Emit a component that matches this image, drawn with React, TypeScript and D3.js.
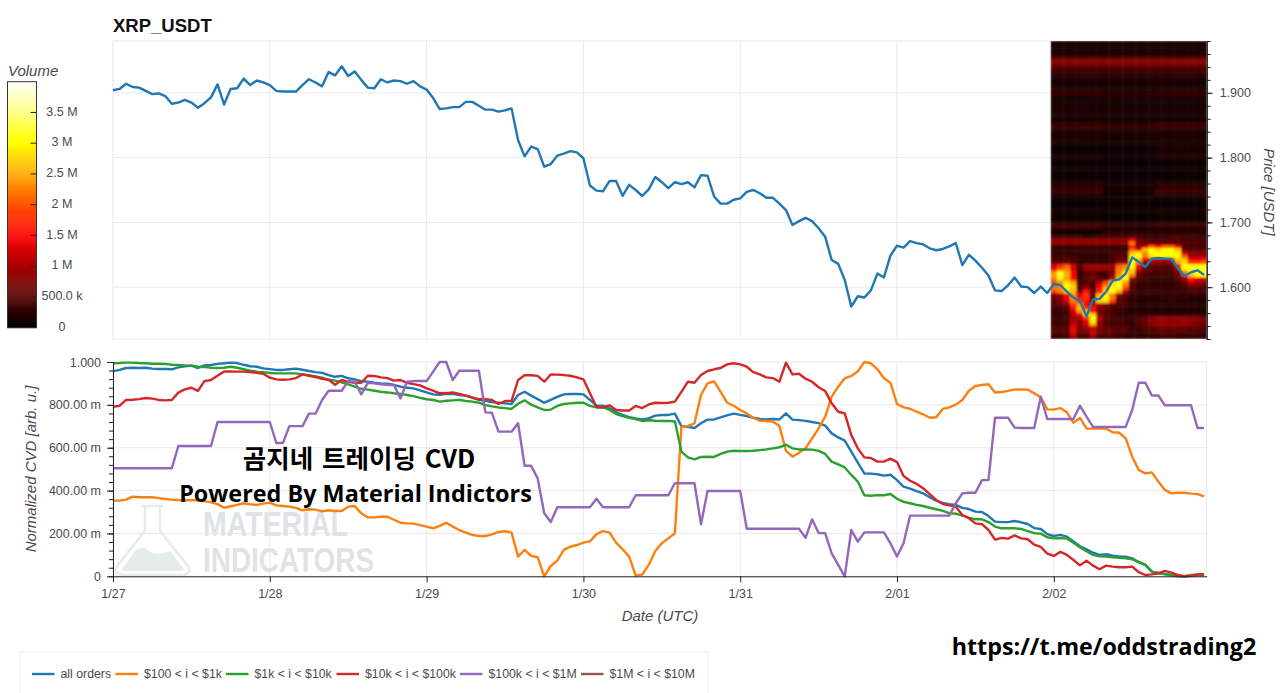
import React, { useEffect, useRef } from "react";
import * as d3 from "d3";

// hourly samples, starting 1/27 00:00 UTC
const priceValues = [
  1.904, 1.906, 1.914, 1.909, 1.908, 1.903, 1.898, 1.899, 1.895, 1.883, 1.885, 1.889, 1.885, 1.877, 1.884, 1.893, 1.913, 1.882, 1.906, 1.907, 1.922, 1.912, 1.919, 1.916,
  1.912, 1.903, 1.902, 1.902, 1.902, 1.912, 1.921, 1.916, 1.91, 1.932, 1.927, 1.941, 1.926, 1.933, 1.92, 1.908, 1.907, 1.921, 1.916, 1.919, 1.918, 1.914, 1.918, 1.91,
  1.905, 1.892, 1.875, 1.876, 1.878, 1.878, 1.886, 1.886, 1.88, 1.874, 1.874, 1.871, 1.873, 1.876, 1.827, 1.802, 1.817, 1.813, 1.786, 1.79, 1.803, 1.806, 1.81, 1.808,
  1.799, 1.757, 1.749, 1.748, 1.764, 1.764, 1.741, 1.758, 1.75, 1.741, 1.751, 1.77, 1.762, 1.753, 1.762, 1.759, 1.762, 1.754, 1.773, 1.772, 1.74, 1.729, 1.729, 1.735,
  1.737, 1.747, 1.75, 1.745, 1.738, 1.738, 1.729, 1.719, 1.696, 1.702, 1.707, 1.702, 1.691, 1.678, 1.642, 1.636, 1.611, 1.57, 1.586, 1.584, 1.595, 1.621, 1.615, 1.649,
  1.664, 1.661, 1.671, 1.668, 1.666, 1.66, 1.657, 1.659, 1.663, 1.668, 1.634, 1.65, 1.641, 1.63, 1.618, 1.595, 1.594, 1.603, 1.615, 1.601, 1.6, 1.591, 1.601, 1.591,
  1.605, 1.603, 1.593, 1.584, 1.579, 1.555, 1.581, 1.582, 1.593, 1.61, 1.612, 1.621, 1.646, 1.639, 1.631, 1.644, 1.645, 1.644, 1.643, 1.629, 1.617, 1.623, 1.626, 1.619,
];

// normalized CVD, in thousandths
const allOrders = [
  956, 963, 972, 973, 972, 973, 969, 967, 967, 966, 975, 980, 983, 972, 984, 986, 991, 994, 997, 995, 987, 980, 978, 970,
  967, 963, 963, 966, 969, 964, 958, 953, 949, 939, 931, 935, 924, 919, 911, 908, 903, 900, 899, 893, 885, 880, 877, 868,
  858, 849, 847, 851, 852, 846, 843, 833, 823, 819, 813, 810, 807, 804, 846, 861, 843, 827, 810, 823, 837, 849, 851, 851,
  849, 823, 796, 796, 784, 765, 753, 743, 737, 732, 737, 750, 753, 753, 759, 701, 698, 692, 714, 731, 732, 742, 751, 759,
  753, 748, 740, 734, 732, 734, 732, 760, 731, 729, 725, 720, 715, 703, 667, 648, 633, 582, 530, 480, 479, 476, 470, 474,
  449, 418, 409, 397, 387, 369, 353, 342, 337, 333, 319, 314, 302, 300, 281, 255, 253, 253, 258, 252, 244, 225, 221, 197,
  188, 193, 185, 162, 140, 126, 110, 100, 103, 96, 93, 92, 84, 65, 53, 22, 14, 11, 5, 2, 0, 3, 6, 6,
];
const tier100 = [
  353, 353, 358, 372, 369, 369, 369, 365, 361, 358, 356, 355, 355, 355, 351, 345, 337, 320, 327, 333, 341, 336, 333, 339,
  344, 331, 328, 325, 319, 308, 313, 311, 303, 308, 305, 305, 325, 328, 294, 275, 275, 278, 278, 264, 250, 247, 246, 239,
  232, 224, 235, 250, 232, 216, 204, 193, 188, 188, 196, 207, 210, 204, 92, 123, 95, 89, 0, 48, 73, 123, 138, 146,
  157, 163, 197, 211, 204, 157, 126, 92, 3, 8, 53, 118, 154, 177, 201, 698, 701, 714, 846, 900, 910, 861, 810, 796,
  776, 760, 740, 726, 725, 722, 701, 586, 558, 577, 597, 644, 690, 745, 838, 885, 924, 935, 956, 1000, 994, 966, 924, 903,
  804, 788, 782, 768, 756, 740, 742, 781, 788, 801, 823, 866, 888, 893, 896, 858, 860, 865, 872, 872, 871, 854, 835, 779,
  778, 785, 765, 717, 739, 690, 689, 689, 690, 672, 670, 644, 558, 496, 480, 485, 442, 403, 387, 390, 390, 386, 384, 373,
];
const tier1k = [
  994, 995, 997, 997, 995, 994, 992, 992, 991, 987, 986, 984, 983, 978, 977, 973, 972, 973, 978, 973, 966, 959, 955, 952,
  949, 947, 947, 947, 947, 942, 938, 933, 927, 917, 913, 905, 896, 885, 875, 871, 866, 861, 858, 854, 851, 846, 841, 833,
  826, 823, 815, 819, 821, 823, 818, 815, 810, 799, 793, 788, 785, 781, 805, 821, 801, 788, 776, 778, 795, 804, 807, 810,
  810, 795, 788, 788, 776, 757, 748, 740, 734, 725, 728, 726, 725, 725, 723, 582, 555, 546, 557, 558, 557, 571, 582, 586,
  585, 585, 586, 589, 592, 597, 602, 614, 597, 592, 592, 591, 585, 571, 535, 522, 508, 473, 442, 378, 376, 379, 378, 384,
  362, 347, 341, 333, 328, 320, 313, 305, 295, 292, 283, 274, 266, 266, 253, 232, 224, 224, 224, 221, 211, 201, 199, 182,
  177, 179, 176, 157, 135, 117, 100, 93, 92, 89, 86, 84, 79, 67, 53, 22, 17, 9, 6, 0, 0, 6, 9, 9,
];
const tier10k = [
  791, 795, 823, 824, 827, 832, 829, 823, 821, 823, 857, 872, 880, 865, 911, 916, 936, 956, 956, 955, 955, 953, 949, 945,
  927, 919, 917, 919, 925, 942, 936, 930, 921, 917, 894, 916, 907, 903, 903, 936, 935, 928, 925, 913, 916, 903, 897, 891,
  877, 866, 854, 855, 858, 851, 843, 835, 826, 827, 823, 804, 818, 819, 916, 938, 938, 935, 908, 942, 941, 939, 936, 928,
  919, 854, 790, 788, 798, 776, 774, 774, 795, 785, 802, 810, 809, 810, 815, 861, 908, 903, 939, 958, 966, 972, 989, 994,
  989, 978, 953, 942, 928, 925, 908, 997, 942, 945, 922, 908, 882, 865, 807, 768, 760, 659, 597, 555, 552, 535, 535, 549,
  533, 468, 446, 431, 411, 383, 356, 337, 331, 325, 286, 271, 247, 243, 216, 171, 179, 176, 191, 177, 173, 148, 137, 106,
  95, 114, 100, 76, 51, 73, 50, 33, 50, 45, 42, 42, 45, 19, 6, 9, 14, 25, 17, 6, 0, 2, 8, 9,
];
const tier100k = [
  504, 504, 504, 504, 504, 504, 504, 504, 504, 504, 608, 608, 608, 608, 608, 608, 720, 720, 720, 720, 720, 720, 720, 720,
  720, 622, 622, 701, 701, 701, 759, 759, 823, 866, 866, 866, 911, 908, 849, 903, 900, 896, 893, 893, 830, 908, 911, 911,
  911, 955, 1000, 1000, 916, 959, 959, 959, 959, 765, 763, 675, 675, 675, 714, 516, 516, 457, 294, 253, 322, 322, 322, 322,
  322, 322, 362, 322, 322, 322, 322, 322, 378, 378, 378, 378, 378, 378, 434, 434, 434, 434, 243, 398, 398, 398, 398, 398,
  398, 222, 222, 222, 222, 222, 222, 222, 222, 222, 180, 266, 202, 201, 107, 53, 0, 216, 162, 205, 205, 205, 205, 154,
  92, 154, 283, 283, 283, 283, 283, 283, 283, 341, 387, 390, 390, 449, 449, 740, 740, 740, 694, 692, 692, 692, 838, 734,
  734, 734, 734, 734, 796, 745, 697, 697, 697, 697, 697, 697, 776, 903, 903, 844, 844, 798, 798, 798, 798, 798, 692, 692,
];

const seriesNames = ["all orders", "$100 < i < $1k", "$1k < i < $10k", "$10k < i < $100k", "$100k < i < $1M", "$1M < i < $10M"];
const seriesColors = ["#1f77b4", "#ff7f0e", "#2ca02c", "#d62728", "#9467bd", "#8c564b"];
// the $1M tier has no visible line in the picture, only its legend entry
const seriesValues = [allOrders, tier100, tier1k, tier10k, tier100k];
const legendStarts = [32, 115.5, 226, 336.5, 460, 581];

const dayTicks = ["2025-01-27", "2025-01-28", "2025-01-29", "2025-01-30", "2025-01-31", "2025-02-01", "2025-02-02"];
const cvdTicks = [0, 0.2, 0.4, 0.6, 0.8, 1];
const cvdTickLabels = ["0", "200.00 m", "400.00 m", "600.00 m", "800.00 m", "1.000"];
const priceTicks = [1.6, 1.7, 1.8, 1.9];
const volumeTicks = [0, 0.5e6, 1e6, 1.5e6, 2e6, 2.5e6, 3e6, 3.5e6];
const volumeTickLabels = ["0", "500.0 k", "1 M", "1.5 M", "2 M", "2.5 M", "3 M", "3.5 M"];

// volume heatmap, units of 100k. Rows run top down in 0.005 price bins.
// above 1.68 the rows barely change over the day, so three spans per row
const upperEarly = [
  1.2, 1.2, 1.2, 1.5, 2, 6, 8, 6.5, 4.5, 3.5, 2.2, 2, 1.5, 1.2, 1.2, 2.5, 3, 1.5, 1, 1.2, 2, 1.8, 1.5, 1.2, 1, 3, 3.5, 2, 1.5, 1.2,
  1.5, 1.2, 0.6, 0.5, 0.8, 1.2, 1.2, 1, 0.8, 0.8, 1, 1, 0.8, 1.2, 2, 3, 3.5, 2, 0.6, 1, 1, 0.8, 0.8, 1.2, 1, 0.8, 3.5, 4, 1.5, 0.8,
];
const upperMid = [
  1.2, 1.2, 1.2, 1.5, 2, 6, 8, 6.5, 4.5, 3.5, 2.2, 2, 1.5, 1.2, 1.2, 2.2, 2.6, 1.5, 1, 1.2, 1.6, 1.5, 1.2, 1.2, 1, 2.5, 3, 2, 1.5, 1.2,
  1.2, 1.2, 0.5, 0.5, 0.8, 1, 1, 1, 0.8, 0.8, 1, 1, 0.8, 1, 1.2, 1.2, 1.2, 1, 0.6, 0.8, 0.8, 0.8, 0.8, 1, 1, 0.8, 3, 2.5, 1.5, 3,
];
const upperLate = [
  1.2, 1.2, 1.2, 1.5, 2, 6, 8, 6.5, 4.5, 3.5, 2.2, 2, 1.5, 1.2, 1.2, 2.5, 3, 1.5, 1, 1.2, 1.8, 1.5, 1.2, 1.2, 1, 3.2, 3.5, 2, 1.5, 1.2,
  1.5, 1.2, 1.5, 1.5, 1.2, 1.2, 1.2, 1, 1, 0.8, 1, 1, 0.8, 1.2, 2, 3, 4, 2.5, 0.6, 1, 1, 0.8, 0.8, 1.2, 1, 0.8, 3.5, 3, 1.5, 3,
];
// 1.68 down to 1.52, hour by hour over the last day
const lowerRows = [
  [4, 4, 4, 4, 4, 2, 3, 4, 4, 4, 4, 4, 5, 4, 3, 3, 3, 3, 4, 4, 4, 4, 3, 3],
  [8, 8, 8, 8, 8, 8, 8, 8, 8, 8, 8, 8, 14, 6, 5, 5, 5, 5, 5, 5, 4, 4, 4, 4],
  [9, 9, 9, 9, 9, 9, 9, 9, 9, 9, 9, 9, 22, 8, 6, 6, 6, 6, 6, 6, 5, 5, 5, 5],
  [3, 3, 3, 3, 3, 3, 3, 3, 3, 3, 3, 3, 16, 8, 12, 20, 16, 20, 20, 14, 4, 4, 4, 4],
  [3, 3, 3, 3, 3, 3, 3, 3, 3, 3, 3, 3, 20, 14, 26, 30, 27, 30, 30, 26, 6, 5, 5, 5],
  [3, 3, 3, 3, 3, 3, 3, 3, 3, 4, 4, 5, 26, 29, 23, 30, 30, 30, 30, 29, 12, 8, 8, 8],
  [4, 4, 4, 4, 3, 3, 3, 3, 3, 4, 5, 5, 29, 31, 22, 29, 30, 30, 30, 30, 20, 9, 9, 9],
  [4, 4, 5, 4, 3, 3, 3, 3, 3, 4, 6, 6, 31, 27, 14, 14, 12, 10, 12, 27, 26, 14, 14, 16],
  [5, 6, 6, 5, 3, 3, 3, 3, 3, 4, 8, 8, 31, 22, 9, 8, 8, 7, 9, 24, 28, 18, 18, 20],
  [12, 17, 20, 12, 4, 9, 9, 9, 9, 9, 20, 22, 30, 15, 6, 6, 5, 5, 5, 14, 30, 30, 30, 30],
  [14, 20, 22, 13, 4, 9, 9, 9, 9, 9, 22, 24, 28, 12, 6, 5, 5, 5, 5, 10, 29, 31, 31, 31],
  [23, 30, 25, 15, 3, 5, 6, 4, 4, 8, 23, 29, 26, 8, 5, 4, 4, 4, 4, 7, 22, 29, 31, 31],
  [24, 32, 25, 15, 3, 5, 6, 4, 3, 8, 24, 30, 22, 6, 4, 4, 4, 4, 4, 6, 16, 26, 30, 30],
  [22, 29, 24, 14, 3, 5, 6, 5, 3, 9, 26, 30, 8, 4, 4, 3, 3, 3, 3, 5, 8, 16, 14, 12],
  [20, 24, 28, 24, 4, 5, 5, 10, 18, 27, 30, 24, 6, 4, 3, 3, 3, 3, 3, 4, 6, 12, 10, 9],
  [20, 23, 30, 27, 5, 6, 4, 14, 22, 29, 30, 22, 5, 3, 3, 3, 3, 3, 3, 4, 5, 8, 7, 6],
  [22, 23, 30, 27, 5, 10, 4, 16, 26, 30, 29, 18, 5, 3, 3, 3, 3, 3, 3, 3, 4, 5, 5, 5],
  [18, 22, 27, 26, 6, 16, 5, 16, 27, 30, 24, 10, 4, 3, 3, 3, 3, 3, 3, 3, 3, 4, 4, 4],
  [7, 9, 15, 23, 14, 18, 6, 26, 29, 22, 8, 5, 3, 3, 3, 3, 3, 3, 3, 3, 3, 3, 3, 3],
  [6, 8, 14, 23, 16, 18, 6, 27, 30, 22, 6, 4, 3, 3, 2, 2, 2, 3, 3, 3, 3, 2, 2, 2],
  [5, 7, 12, 22, 18, 16, 6, 27, 27, 18, 5, 4, 3, 2, 2, 2, 2, 2, 3, 2, 2, 2, 2, 2],
  [4, 5, 7, 18, 24, 14, 12, 10, 8, 5, 4, 4, 3, 2, 2, 2, 2, 2, 2, 2, 2, 2, 2, 2],
  [4, 4, 5, 16, 26, 18, 16, 8, 6, 4, 4, 3, 2, 2, 2, 2, 2, 2, 2, 2, 2, 2, 2, 2],
  [3, 4, 4, 12, 24, 27, 16, 7, 5, 4, 3, 3, 2, 2, 2, 2, 2, 2, 2, 2, 2, 2, 2, 2],
  [3, 3, 4, 10, 14, 27, 27, 8, 5, 4, 3, 3, 3, 3, 3, 3, 3, 3, 3, 3, 3, 3, 3, 3],
  [3, 3, 4, 9, 10, 18, 30, 10, 5, 4, 4, 3, 3, 4, 5, 7, 8, 8, 8, 8, 8, 7, 7, 6],
  [3, 3, 4, 10, 8, 14, 29, 9, 5, 4, 4, 3, 3, 5, 6, 8, 9, 9, 8, 8, 9, 9, 8, 7],
  [4, 4, 4, 12, 7, 12, 26, 8, 5, 4, 4, 4, 3, 5, 6, 8, 9, 9, 9, 9, 9, 8, 7, 6],
  [5, 5, 5, 14, 8, 10, 11, 8, 6, 5, 5, 5, 3, 4, 5, 6, 7, 7, 7, 7, 7, 6, 6, 5],
  [5, 5, 5, 14, 7, 8, 12, 7, 6, 6, 5, 5, 3, 3, 4, 4, 5, 5, 5, 5, 5, 4, 4, 4],
  [4, 4, 4, 12, 5, 5, 11, 6, 5, 5, 4, 4, 3, 3, 3, 4, 4, 4, 4, 4, 4, 4, 4, 3],
  [3, 3, 3, 10, 4, 4, 8, 4, 4, 4, 3, 3, 3, 3, 3, 3, 3, 4, 4, 3, 3, 3, 3, 3],
];

const start = Date.UTC(2025, 0, 27);
const hour = 3600000;
const atHour = (h: number) => new Date(start + h * hour);

export default function App() {
  const ref = useRef<SVGSVGElement | null>(null);

  useEffect(() => {
    const svg = d3.select(ref.current);
    svg.selectAll("*").remove();

    const left = 113, right = 1206.7;
    const font = "'Liberation Sans', Arial, sans-serif";
    const grid = "#e9e9e9";
    const textCol = "#4a4a4a";
    const lineWidth = 2.4;

    const x = d3.scaleUtc().domain([atHour(0), atHour(167.4)]).range([left, right]);
    const yPrice = d3.scaleLinear().domain([1.52, 1.98]).range([339, 41]);
    const yCvd = d3.scaleLinear().domain([0, 1]).range([576.3, 362]);
    const days = dayTicks.map((d) => new Date(d + "T00:00:00Z"));
    const hot = d3.scaleLinear<string>().domain([0, 1.5e6, 3e6, 4e6]).range(["#000000", "#ff0000", "#ffff00", "#ffffff"]);

    svg.append("rect").attr("width", 1280).attr("height", 693).attr("fill", "#fff");

    svg.append("text").attr("x", 113).attr("y", 32).attr("font-family", font).attr("font-weight", 700).attr("font-size", 18.5).attr("fill", "#111").text("XRP_USDT");

    // top panel frame and grid
    const top = svg.append("g").attr("stroke", grid).attr("fill", "none");
    top.append("rect").attr("x", left).attr("y", 41).attr("width", right - left).attr("height", 298);
    days.slice(1).forEach((d) => top.append("line").attr("x1", x(d)).attr("x2", x(d)).attr("y1", 41).attr("y2", 339));
    priceTicks.forEach((p) => top.append("line").attr("x1", left).attr("x2", right).attr("y1", yPrice(p)).attr("y2", yPrice(p)));

    // heatmap
    const defs = svg.append("defs");
    defs.append("filter").attr("id", "soft").attr("x", "-5%").attr("y", "-5%").attr("width", "110%").attr("height", "110%")
      .append("feGaussianBlur").attr("stdDeviation", 0.8);
    defs.append("clipPath").attr("id", "heatClip").append("rect")
      .attr("x", x(atHour(143.5))).attr("y", 41).attr("width", right - x(atHour(143.5))).attr("height", 298);

    const rows = [
      ...upperEarly.map((v, i) => d3.range(24).map((c) => (c < 8 ? v : c < 16 ? upperMid[i] : upperLate[i]))),
      ...lowerRows,
    ];
    const rowBand = d3.scaleBand<number>().domain(d3.range(rows.length)).range([41, 339]);
    const heat = svg.append("g").attr("clip-path", "url(#heatClip)").append("g").attr("filter", "url(#soft)");
    rows.forEach((row, r) => {
      row.forEach((v, c) => {
        const x0 = x(atHour(143.5 + c));
        heat.append("rect").attr("x", x0 - 0.2).attr("y", rowBand(r)! - 0.2)
          .attr("width", x(atHour(144.5 + c)) - x0 + 0.4).attr("height", rowBand.bandwidth() + 0.4)
          .attr("fill", hot(v * 1e5));
      });
    });

    const priceLine = d3.line<number>().x((_, i) => x(atHour(i))).y((d) => yPrice(d));
    svg.append("path").attr("d", priceLine(priceValues)).attr("fill", "none").attr("stroke", "#1f77b4").attr("stroke-width", lineWidth).attr("stroke-linejoin", "round");

    const styleAxis = (g: any) => {
      g.attr("font-family", font).attr("font-size", 12.5);
      g.selectAll("text").attr("fill", textCol);
      g.selectAll("path,line").attr("stroke", "#222");
    };

    // price axis
    const priceMinor = d3.range(1.52, 1.981, 0.02);
    svg.append("g").attr("transform", `translate(${right},0)`)
      .call(d3.axisRight(yPrice).tickValues(priceMinor).tickSize(4).tickFormat(() => "").tickSizeOuter(0) as any).call(styleAxis);
    svg.append("g").attr("transform", `translate(${right},0)`)
      .call(d3.axisRight(yPrice).tickValues(priceTicks).tickSize(6).tickPadding(7).tickFormat(d3.format(".3f") as any).tickSizeOuter(0) as any).call(styleAxis);
    svg.append("text").attr("transform", "translate(1264,192) rotate(90)").attr("text-anchor", "middle")
      .attr("font-family", font).attr("font-style", "italic").attr("font-size", 15).attr("fill", textCol).text("Price [USDT]");

    // colour bar
    const yVol = d3.scaleLinear().domain([0, 4e6]).range([327.7, 81.7]);
    const bar = svg.append("g");
    d3.range(0, 4e6, 16000).forEach((v) => {
      bar.append("rect").attr("x", 7.5).attr("width", 29).attr("y", yVol(v + 16000)).attr("height", yVol(v) - yVol(v + 16000) + 0.4).attr("fill", hot(v));
    });
    bar.append("rect").attr("x", 7.5).attr("y", 81.7).attr("width", 29).attr("height", 246).attr("fill", "none").attr("stroke", "#333");
    volumeTicks.forEach((v, i) => {
      if (i > 0) bar.append("line").attr("x1", 30.5).attr("x2", 36.5).attr("y1", yVol(v)).attr("y2", yVol(v)).attr("stroke", "#222");
      bar.append("text").attr("x", 62).attr("y", yVol(v) + (i === 0 ? 3 : 3.2)).attr("text-anchor", "middle")
        .attr("font-family", font).attr("font-size", 12.5).attr("fill", textCol).text(volumeTickLabels[i]);
    });
    svg.append("text").attr("x", 8).attr("y", 76).attr("font-family", font).attr("font-style", "italic").attr("font-size", 15).attr("fill", textCol).text("Volume");

    // bottom panel frame and grid
    const lower = svg.append("g").attr("stroke", grid).attr("fill", "none");
    lower.append("rect").attr("x", left).attr("y", 362).attr("width", right - left).attr("height", 214.3);
    days.slice(1).forEach((d) => lower.append("line").attr("x1", x(d)).attr("x2", x(d)).attr("y1", 362).attr("y2", 576.3));
    cvdTicks.slice(1, 5).forEach((v) => lower.append("line").attr("x1", left).attr("x2", right).attr("y1", yCvd(v)).attr("y2", yCvd(v)));

    // watermark
    const mark = svg.append("g");
    mark.append("path").attr("d", "M142 506H163M145 506V531L117 566Q113 574 122 575H183Q192 574 188 566L160 531V506")
      .attr("fill", "none").attr("stroke", "#e9ebeb").attr("stroke-width", 2.5);
    mark.append("path").attr("d", "M122 569L136 550Q143 544 150 552Q160 556 170 551L184 569Q184 571 181 571H125Q121 571 122 569Z").attr("fill", "#e6ecec");
    [["MATERIAL", 536, 145], ["INDICATORS", 572, 171]].forEach(([t, y, w]) => {
      mark.append("text").attr("x", 203).attr("y", y as number).attr("textLength", w as number).attr("lengthAdjust", "spacingAndGlyphs")
        .attr("font-family", "'Liberation Sans Narrow','Liberation Sans',sans-serif").attr("font-weight", 700).attr("font-size", 35).attr("fill", "#dfe3e5").text(t as string);
    });

    // CVD lines
    const cvdLine = d3.line<number>().x((_, i) => x(atHour(i))).y((d) => yCvd(d / 1000));
    seriesValues.forEach((vals, i) => {
      svg.append("path").attr("d", cvdLine(vals)).attr("fill", "none").attr("stroke", seriesColors[i]).attr("stroke-width", lineWidth).attr("stroke-linejoin", "round");
    });

    // CVD axes
    const cvdMinor = d3.range(0, 1.001, 0.04);
    svg.append("g").attr("transform", `translate(${left},0)`)
      .call(d3.axisLeft(yCvd).tickValues(cvdMinor).tickSize(4).tickFormat(() => "").tickSizeOuter(0) as any).call(styleAxis);
    svg.append("g").attr("transform", `translate(${left},0)`)
      .call(d3.axisLeft(yCvd).tickValues(cvdTicks).tickSize(6).tickPadding(6).tickFormat((_, i) => cvdTickLabels[i]).tickSizeOuter(0) as any).call(styleAxis);
    svg.append("g").attr("transform", "translate(0,576.3)")
      .call(d3.axisBottom(x).tickValues(days).tickSize(6).tickPadding(7).tickFormat(d3.utcFormat("%-m/%d") as any).tickSizeOuter(0) as any).call(styleAxis);
    svg.append("text").attr("transform", "translate(36,469) rotate(-90)").attr("text-anchor", "middle")
      .attr("font-family", font).attr("font-style", "italic").attr("font-size", 15).attr("fill", textCol).text("Normalized CVD [arb. u.]");
    svg.append("text").attr("x", 660).attr("y", 621).attr("text-anchor", "middle")
      .attr("font-family", font).attr("font-style", "italic").attr("font-size", 15).attr("fill", textCol).text("Date (UTC)");

    // overlaid captions
    const caption = (t: string, cx: number, y: number, size: number, fam: string) =>
      svg.append("text").attr("x", cx).attr("y", y).attr("text-anchor", "middle").attr("font-family", fam).attr("font-weight", 700).attr("font-size", size).attr("fill", "#000").text(t);
    caption("곰지네 트레이딩 CVD", 359, 468, 25.5, "'Noto Sans CJK KR'").attr("word-spacing", 3);
    caption("Powered By Material Indictors", 355.5, 502, 23.4, "'Open Sans'");
    caption("https://t.me/oddstrading2", 1104, 655, 23.3, "'Open Sans'");

    // legend
    const legend = svg.append("g");
    legend.append("rect").attr("x", 20).attr("y", 652).attr("width", 688).attr("height", 50).attr("fill", "#fff").attr("stroke", "#eee");
    seriesNames.forEach((name, i) => {
      legend.append("line").attr("x1", legendStarts[i]).attr("x2", legendStarts[i] + 22.5).attr("y1", 674).attr("y2", 674).attr("stroke", seriesColors[i]).attr("stroke-width", lineWidth);
      legend.append("text").attr("x", legendStarts[i] + 28.5).attr("y", 678).attr("font-family", font).attr("font-size", 12.3).attr("fill", textCol).text(name);
    });
  }, []);

  return <svg ref={ref} width={1280} height={693} style={{ position: "absolute", left: 0, top: 0 }} />;
}
